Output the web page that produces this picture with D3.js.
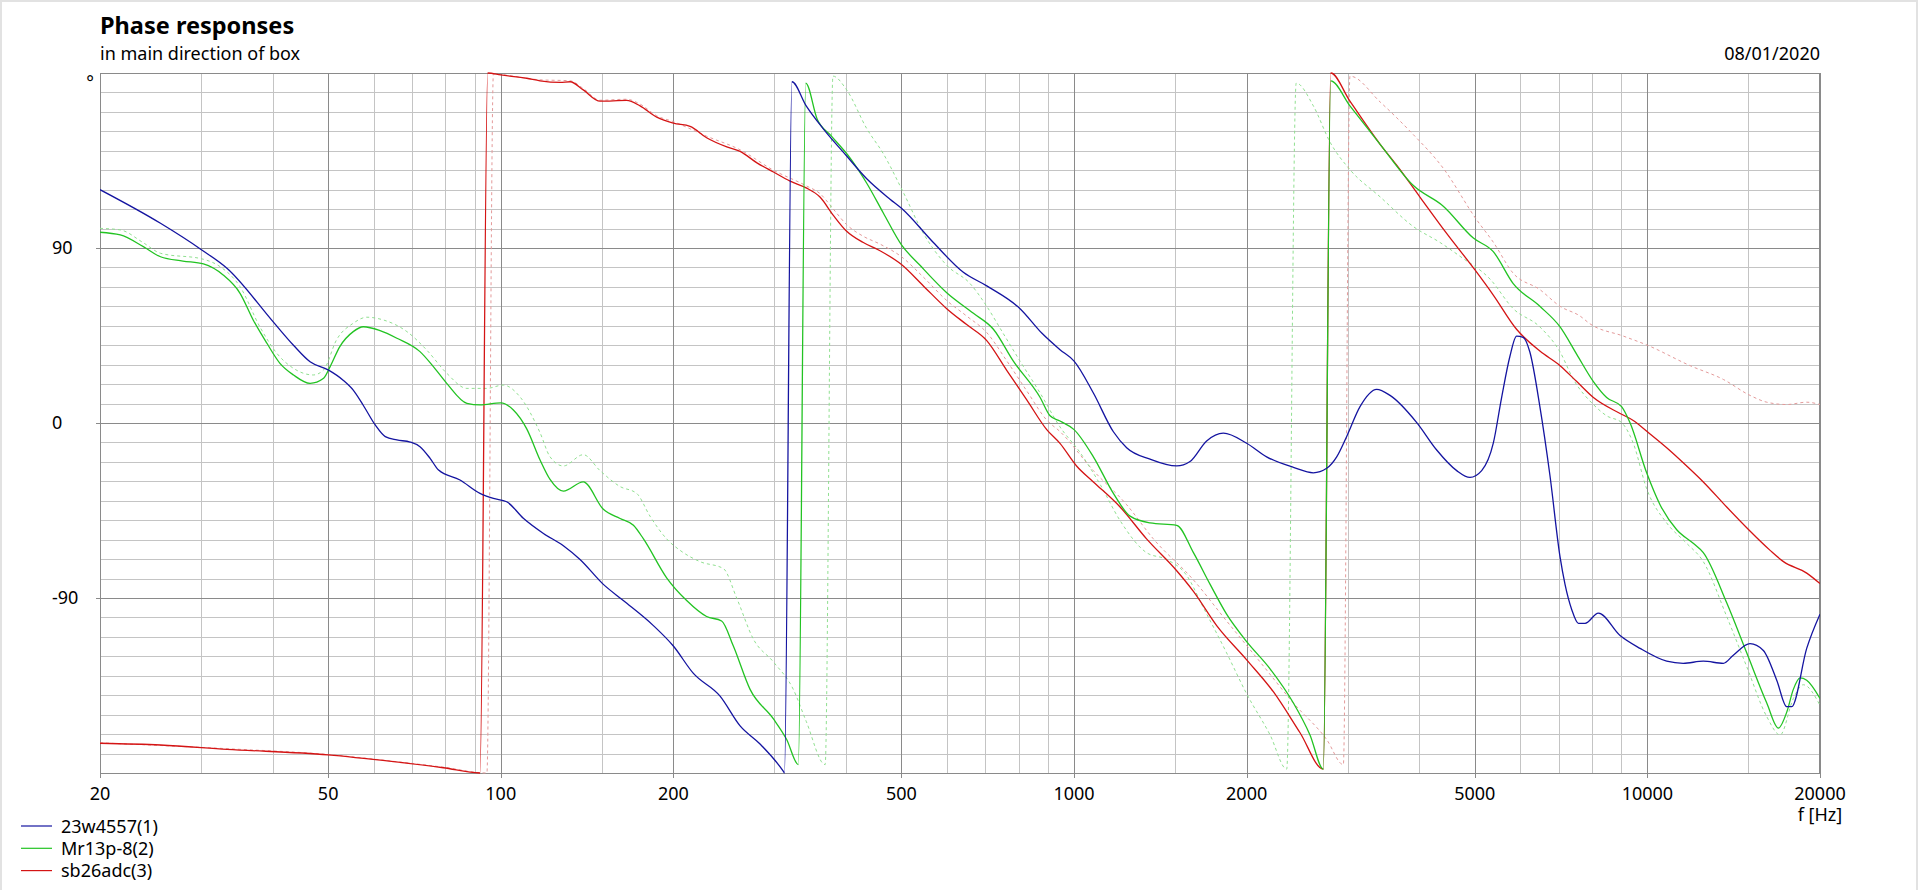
<!DOCTYPE html>
<html><head><meta charset="utf-8">
<script src="https://cdn.jsdelivr.net/npm/d3@7"></script>
<style>
html,body{margin:0;padding:0;background:#fff;overflow:hidden}
svg text{font-family:"Noto Sans",sans-serif;fill:#000}
</style></head>
<body><svg id="c" width="1920" height="890"></svg>
<script>
// ---------- data ----------
const titleText = "Phase responses";
const subtitleText = "in main direction of box";
const dateText = "08/01/2020";
const xAxisTitle = "f [Hz]";
const xTickLabels = [20, 50, 100, 200, 500, 1000, 2000, 5000, 10000, 20000];
const xMinorFreqs = [30,40,60,70,80,90,150,300,400,600,700,800,900,1500,3000,4000,6000,7000,8000,9000,15000];
const yTickLabels = [90, 0, -90];
const yMinorStep = 10;
const seriesNames = ["23w4557(1)", "Mr13p-8(2)", "sb26adc(3)"];

// [frequency Hz, phase deg]
const blue23w = [[20,120],[25.5,102.7],[30.1,89],[33.3,79.6],[40.1,52],[43.5,40],[46.5,31.5],[50,27.3],[53.1,22],[55.3,16.9],[57.6,9],[60.4,-1],[62.9,-7],[65.9,-8.7],[69.5,-9.8],[72.3,-12.2],[75.3,-18.2],[77.9,-24.2],[84.9,-29.3],[92,-36.2],[97.1,-38.8],[102.4,-40.5],[109.5,-49],[118.7,-56.8],[128.6,-63.1],[137.5,-70.2],[151,-83],[163.6,-91.3],[184.6,-104.2],[200,-114.7],[216.8,-128.8],[241.3,-140.5],[261.5,-155.8],[283.3,-165.1],[311.2,-179.2],[312.5,-180],[322,175.5],[341,163.1],[365,151.4],[401.2,137.3],[434.9,125.6],[477.5,115.1],[500,110.4],[568.3,92.8],[641,77.5],[704.2,70.5],[805,58.8],[880,46],[945,37.7],[1000,31.8],[1080.6,15.4],[1171,-4.5],[1235,-12.7],[1357,-18.6],[1510,-22.1],[1593,-19.8],[1703,-9.2],[1821,-5.2],[2000,-10.4],[2167,-17.4],[2413,-22.8],[2614,-25.6],[2758,-23.3],[2871,-17.4],[2989,-6.9],[3153,8.4],[3371,17.3],[3557,14.2],[3960,0.2],[4290,-13.9],[4649,-24.5],[4903,-28],[5140,-24.5],[5385,-10.4],[5568,13.1],[5756,34.2],[5912,44.7],[6072,44],[6237,36.5],[6493,8.4],[6761,-27],[7042,-69],[7183,-83],[7380,-96],[7580,-103],[7784,-103],[8213,-97.8],[8960,-109.3],[9707,-115.9],[10805,-122.5],[11548,-123.6],[12517,-122.5],[13566,-123.6],[14120,-119.4],[15100,-113.5],[15930,-117],[16810,-132.3],[17500,-145.9],[17850,-145.9],[18960,-115.9],[20000,-98.3]];

const greenMr13 = [[20,98.1],[21.7,96.7],[23.8,90.7],[25.5,85.5],[27.9,83.3],[30.3,81.8],[32.8,76.1],[35.1,66.7],[37,53],[39.1,41],[41.2,30.7],[43.5,24.7],[46.5,20.4],[49.1,23],[50.4,29],[52.4,39.3],[55.3,47],[57.6,49.5],[61.6,47.5],[65.9,43.6],[72.3,36.7],[76.3,29],[80.5,20.4],[87.3,10.1],[92,9.3],[100,10.4],[105.2,6.7],[111,-3],[117.1,-19],[121.9,-29],[128.6,-35],[139.3,-30.3],[151,-44.4],[161.5,-49.1],[170.4,-52.6],[177.4,-59.6],[194.7,-79.6],[211,-91.3],[228.6,-99.5],[242.8,-101.8],[254.5,-114.7],[272.2,-137],[299,-152.2],[315.3,-162.8],[330.4,-175.7],[340.4,174.8],[356.6,156.1],[376.4,147.9],[406.9,136.2],[434.9,123.3],[464.8,108],[500,91.6],[538.6,81.1],[599.6,67],[667.5,56.4],[723.2,48.2],[783.6,31.8],[872.6,13.1],[908,3.7],[945,1],[1000,-3.4],[1080.6,-17.4],[1171,-36.2],[1252,-47.9],[1357,-51.4],[1510,-52.6],[1615,-66.7],[1727,-83],[1845,-98.3],[2000,-112.4],[2197,-126.4],[2413,-144],[2579,-160.4],[2721,-178],[2803,176],[3028,163.1],[3421,143.2],[3907,122.1],[4405,111.5],[4971,95.1],[5385,88.1],[5834,71.7],[6493,60],[7042,49.4],[7529,35.3],[8050,21.3],[8490,13.1],[9015,8.4],[9322,0.2],[9970,-25.6],[10520,-42],[11250,-54.9],[12020,-61.9],[12517,-66.7],[13750,-92.5],[14900,-118.2],[16150,-144],[16920,-156.9],[17500,-148.7],[17970,-137],[18460,-131.1],[18960,-132.3],[20000,-141.7]];

const greenMr13Dashed = [[20,100.1],[21.7,99.3],[23.8,92.7],[25.5,87.3],[30.3,84.2],[32.4,80.4],[35.1,70.1],[38,49.5],[40.7,35.8],[43.5,28.1],[47.1,24.7],[49.1,27.3],[51.7,42.7],[55.3,51.3],[58.4,54.4],[62.4,53],[68.6,47],[74.3,37.5],[80.5,25.6],[87.3,17.8],[94.5,17.8],[101,19.5],[108,13.5],[117.1,-5],[121.9,-17.4],[128.6,-22.1],[139.3,-16.3],[149,-24.5],[161.5,-32.7],[172.6,-36.2],[182.1,-47.9],[194.7,-59.6],[205.5,-65.5],[222.6,-71.3],[244.6,-74.9],[258,-90.1],[275.9,-111.2],[299,-122.9],[323.8,-137],[341,-153.4],[368,-175.7],[379.7,178.4],[401.2,171.3],[434.9,151.4],[464.8,138.5],[503.7,118.6],[546,97.5],[599.6,81.1],[658.6,71.7],[704.2,60],[752.9,45.9],[805,31.8],[872.6,15.4],[945,-2],[1024,-15.1],[1110,-31.5],[1203,-50.2],[1338,-66.7],[1451,-70.2],[1572,-78.4],[1680,-94.8],[1845,-118.2],[2000,-139.3],[2197,-160.4],[2349,-178],[2440,174.8],[2614,163.1],[2796,144.4],[3028,130.3],[3421,116.2],[3907,101],[4350,92.8],[4713,85.7],[5316,74],[5834,58.8],[6493,49.4],[7042,36.5],[7430,22.4],[8050,9.5],[8490,3.7],[9015,0.2],[9448,-10.4],[9970,-33.8],[10805,-51.4],[11710,-61.9],[12517,-71.3],[13750,-99.5],[14900,-125.3],[16150,-151],[17040,-160.4],[17970,-141.7],[18700,-134.6],[20000,-145.2]];

const redSb26 = [[20,-164.7],[25.5,-165.6],[33.3,-167.8],[50,-170.7],[65,-174.2],[79.4,-177.3],[92,-180],[94.9,180],[100,179],[111,177.3],[117.1,176],[126.9,175.2],[132.1,175.5],[139.3,171.3],[149,165.5],[165.8,165.9],[175,163.1],[187.1,157.3],[200,154.2],[213.9,152.6],[228.6,146.7],[247.9,142],[261.5,139.7],[279.8,133.8],[299,129.1],[319.7,124.4],[341,120.9],[360.4,116.2],[380.3,106.8],[401.2,98.6],[429,92.8],[458.7,88.6],[500,81.5],[546,70.5],[599.6,58.8],[649.6,50.6],[704.2,42.4],[763,27.1],[827,11.9],[896,-3.4],[945,-10.5],[1010,-22.1],[1080.6,-30.3],[1203,-43.2],[1338,-59.6],[1510,-76],[1615,-86.6],[1773,-104.2],[2000,-121.8],[2226,-138.2],[2478,-159.3],[2721,-178],[2803,180],[3028,165.5],[3421,143.2],[3653,132.6],[4011,116.2],[4465,97.5],[5003,78.7],[5385,65.8],[5912,48.2],[6493,37],[7042,29.5],[7529,21.3],[8050,13.1],[8960,4.9],[9448,1.3],[10000,-4.5],[10805,-12.7],[11710,-22.1],[12517,-30.3],[13750,-43.2],[15020,-54.9],[16370,-65.5],[17270,-71.3],[18960,-77.2],[20000,-82.6]];

const redSb26Dashed = [[20,-164.5],[33.3,-167.5],[50,-170.5],[65,-174],[79.4,-177],[94.6,-180],[97.1,179.5],[100,179.2],[117.1,176.5],[132.1,176],[139.3,172],[149,166],[165.8,166.5],[175,164],[187.1,158],[200,155],[228.6,147.5],[261.5,140.5],[299,130],[341,122],[360.4,118],[380.3,110],[401.2,102],[429,96],[458.7,92],[500,85.5],[546,75],[599.6,63],[649.6,55],[704.2,46.5],[763,32],[827,16.5],[896,1.5],[945,-4.4],[1080.6,-24.5],[1235,-42],[1375,-59.6],[1615,-80.7],[1845,-101.8],[2111,-122.9],[2413,-144],[2758,-162.8],[2949,-175.7],[3028,178.4],[3421,165],[3856,150],[4405,131],[5037,104.5],[5385,93],[5834,77],[6493,68.6],[7042,60],[7630,55],[7942,51],[9078,44.7],[10000,40],[11870,29.5],[13566,22.4],[15100,14.2],[16150,10.7],[17500,9.5],[18960,10.7],[20000,9.5]];

const seriesColors = ["#1414a0", "#22c322", "#d41414"];
const dashedColors = ["#90e090", "#e49a9a"];

// ---------- drawing ----------
const svg = d3.select("#c");
const L = 100, R = 1820, T = 73, B = 773;
const x = d3.scaleLog().domain([20, 20000]).range([L, R]);
const y = d3.scaleLinear().domain([-180, 180]).range([B, T]);

// window frame
svg.append("rect").attr("x",1).attr("y",1).attr("width",1916).attr("height",900)
  .attr("fill","none").attr("stroke","#e2e2e2").attr("stroke-width",2);

const grid = svg.append("g").attr("shape-rendering","crispEdges");
// horizontal minor
d3.range(-170, 180, yMinorStep).filter(v => !yTickLabels.includes(v)).forEach(v => {
  grid.append("line").attr("x1",L).attr("x2",R).attr("y1",Math.round(y(v))+0.5).attr("y2",Math.round(y(v))+0.5)
    .attr("stroke","#c4c4c4").attr("stroke-width",1);
});
// vertical minor
xMinorFreqs.forEach(f => {
  const px = Math.round(x(f))+0.5;
  grid.append("line").attr("x1",px).attr("x2",px).attr("y1",T).attr("y2",B)
    .attr("stroke","#c4c4c4").attr("stroke-width",1);
});
// horizontal major
yTickLabels.forEach(v => {
  const py = Math.round(y(v))+0.5;
  grid.append("line").attr("x1",L-4).attr("x2",R).attr("y1",py).attr("y2",py)
    .attr("stroke","#8a8a8a").attr("stroke-width",1);
});
// vertical major
xTickLabels.forEach(f => {
  const px = Math.round(x(f))+0.5;
  grid.append("line").attr("x1",px).attr("x2",px).attr("y1",T).attr("y2",B+5)
    .attr("stroke","#8a8a8a").attr("stroke-width",1);
});
// border
grid.append("rect").attr("x",L+0.5).attr("y",T+0.5).attr("width",R-L-1).attr("height",B-T)
  .attr("fill","none").attr("stroke","#8a8a8a").attr("stroke-width",1);

// clip
svg.append("clipPath").attr("id","clip").append("rect")
  .attr("x",L).attr("y",T-1).attr("width",R-L).attr("height",B-T+2);

const line = d3.line().x(d => x(d[0])).y(d => y(d[1])).curve(d3.curveMonotoneX);
const plot = svg.append("g").attr("clip-path","url(#clip)").attr("fill","none");

plot.append("path").datum(redSb26Dashed).attr("d",line).attr("stroke",dashedColors[1])
  .attr("stroke-width",1).attr("stroke-dasharray","3,3");
plot.append("path").datum(greenMr13Dashed).attr("d",line).attr("stroke",dashedColors[0])
  .attr("stroke-width",1).attr("stroke-dasharray","3,3");
plot.append("path").datum(redSb26).attr("d",line).attr("stroke",seriesColors[2]).attr("stroke-width",1.3);
plot.append("path").datum(greenMr13).attr("d",line).attr("stroke",seriesColors[1]).attr("stroke-width",1.3);
plot.append("path").datum(blue23w).attr("d",line).attr("stroke",seriesColors[0]).attr("stroke-width",1.3);

// texts
svg.append("text").attr("x",100).attr("y",34).attr("font-size",23.5).attr("font-weight","bold").text(titleText);
svg.append("text").attr("x",100).attr("y",60).attr("font-size",18).text(subtitleText);
svg.append("text").attr("x",1820).attr("y",60).attr("font-size",18).attr("text-anchor","end").text(dateText);
svg.append("text").attr("x",94).attr("y",89).attr("font-size",18).attr("text-anchor","end").text("°");

yTickLabels.forEach(v => {
  svg.append("text").attr("x",52).attr("y",y(v)).attr("dy","0.35em").attr("font-size",18).text(v);
});
xTickLabels.forEach(f => {
  svg.append("text").attr("x",x(f)).attr("y",799.5).attr("font-size",18).attr("text-anchor","middle").text(f);
});
svg.append("text").attr("x",1820).attr("y",821).attr("font-size",18).attr("text-anchor","middle").text(xAxisTitle);

// legend
seriesNames.forEach((n,i) => {
  const ly = 826 + i*22.3;
  svg.append("line").attr("x1",21).attr("x2",52).attr("y1",ly).attr("y2",ly)
    .attr("stroke",seriesColors[i]).attr("stroke-width",1.2);
  svg.append("text").attr("x",61).attr("y",ly+6.8).attr("font-size",18).text(n);
});
</script></body></html>
